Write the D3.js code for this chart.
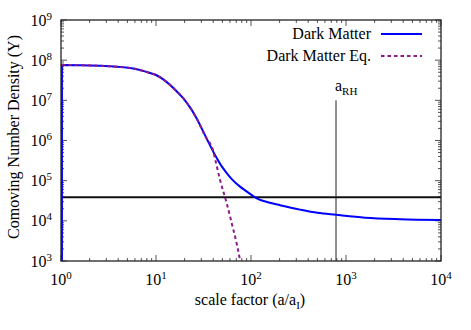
<!DOCTYPE html>
<html>
<head>
<meta charset="utf-8">
<script src="https://cdn.jsdelivr.net/npm/d3@7"></script>
<style>
body { margin: 0; background: #fff; }
</style>
</head>
<body>
<div id="chart"></div>
<script>
// values
var darkA = [1.023, 1.023, 1.58, 2.9, 5.55, 8.65, 10, 12.9, 15.8, 19.4, 22.9, 26.8, 34.1, 41.8, 50.1, 55.5, 63.1, 76.6, 89.1, 115, 158, 202, 328, 501, 785, 1585, 3700, 10000];
var darkY = [300, 7.6e7, 7.5e7, 7.16e7, 6.3e7, 4.8e7, 4.27e7, 2.88e7, 1.86e7, 1.12e7, 6.6e6, 3.55e6, 1.12e6, 4.37e5, 2.14e5, 1.55e5, 1.08e5, 7.1e4, 5.5e4, 3.63e4, 2.82e4, 2.45e4, 1.9e4, 1.58e4, 1.41e4, 1.2e4, 1.1e4, 1.05e4];
var eqA = [1.023, 1.58, 2.9, 5.55, 8.65, 10, 12.9, 15.8, 19.4, 22.9, 26.8, 34.1, 37, 39.8, 41.8, 47.2, 55.5, 62.7, 70.6, 76.6, 79.4];
var eqY = [7.6e7, 7.5e7, 7.16e7, 6.3e7, 4.8e7, 4.27e7, 2.88e7, 1.86e7, 1.12e7, 6.6e6, 3.55e6, 1.12e6, 8.5e5, 5.75e5, 3.55e5, 1.05e5, 2.75e4, 8.7e3, 2.75e3, 1.05e3, 630];
var hLevel = 3.86e4;
var aRH = 785, aRHtop = 1e7;
var xExp = [0, 1, 2, 3, 4];
var yExp = [3, 4, 5, 6, 7, 8, 9];

var W = 471, H = 330;
var m = {left: 61, right: 30, top: 20, bottom: 69};
var serif = "'Liberation Serif', 'Times New Roman', Times, serif";

var svg = d3.select('#chart').append('svg')
	.attr('width', W)
	.attr('height', H)
	.attr('font-family', serif);

var x = d3.scaleLog().domain([1, 1e4]).range([m.left, W - m.right]);
var y = d3.scaleLog().domain([1e3, 1e9]).range([H - m.bottom, m.top]);

svg.append('clipPath').attr('id', 'clip')
	.append('rect')
	.attr('x', m.left).attr('y', m.top)
	.attr('width', x.range()[1] - m.left)
	.attr('height', y.range()[0] - m.top);

// ticks, mirrored on all four sides, pointing in
function minors(lo, hi) {
	var out = [];
	for (var e = lo; e < hi; e++)
		for (var k = 2; k <= 9; k++) out.push(k * Math.pow(10, e));
	return out;
}
var xMaj = xExp.map(function (e) { return Math.pow(10, e); });
var yMaj = yExp.map(function (e) { return Math.pow(10, e); });

var tk = svg.append('g').attr('stroke', '#555').attr('stroke-width', 1);
[[xMaj, 6], [minors(0, 4), 3]].forEach(function (p) {
	tk.selectAll(null).data(p[0]).enter().append('line')
		.attr('x1', function (d) { return x(d); }).attr('x2', function (d) { return x(d); })
		.attr('y1', y.range()[0]).attr('y2', y.range()[0] - p[1]);
	tk.selectAll(null).data(p[0]).enter().append('line')
		.attr('x1', function (d) { return x(d); }).attr('x2', function (d) { return x(d); })
		.attr('y1', m.top).attr('y2', m.top + p[1]);
});
[[yMaj, 6], [minors(3, 9), 3]].forEach(function (p) {
	tk.selectAll(null).data(p[0]).enter().append('line')
		.attr('y1', function (d) { return y(d); }).attr('y2', function (d) { return y(d); })
		.attr('x1', m.left).attr('x2', m.left + p[1]);
	tk.selectAll(null).data(p[0]).enter().append('line')
		.attr('y1', function (d) { return y(d); }).attr('y2', function (d) { return y(d); })
		.attr('x1', x.range()[1]).attr('x2', x.range()[1] - p[1]);
});

// tick labels 10^n
function pow10(g, e) {
	g.append('tspan').text('10');
	g.append('tspan').attr('dy', -6).attr('font-size', 11).text(e);
}
xExp.forEach(function (e) {
	var t = svg.append('text')
		.attr('x', x(Math.pow(10, e))).attr('y', 285)
		.attr('text-anchor', 'middle').attr('font-size', 16);
	pow10(t, e);
});
yExp.forEach(function (e) {
	var t = svg.append('text')
		.attr('x', 52).attr('y', y(Math.pow(10, e)) + 5.5)
		.attr('text-anchor', 'end').attr('font-size', 16);
	pow10(t, e);
});

// axis titles
var xt = svg.append('text').attr('x', 250).attr('y', 305)
	.attr('text-anchor', 'middle').attr('font-size', 16);
xt.append('tspan').text('scale factor (a/a');
xt.append('tspan').attr('dy', 4).attr('font-size', 11).text('I');
xt.append('tspan').attr('dy', -4).text(')');

svg.append('text')
	.attr('transform', 'translate(19,137) rotate(-90)')
	.attr('text-anchor', 'middle').attr('font-size', 16)
	.text('Comoving Number Density (Y)');

// curves
var plot = svg.append('g').attr('clip-path', 'url(#clip)');
var line = d3.line()
	.x(function (d) { return x(d[0]); })
	.y(function (d) { return y(d[1]); })
	.curve(d3.curveMonotoneX);

plot.append('line')
	.attr('x1', m.left).attr('x2', x.range()[1])
	.attr('y1', y(hLevel)).attr('y2', y(hLevel))
	.attr('stroke', '#111').attr('stroke-width', 2);

plot.append('line')
	.attr('x1', x(aRH)).attr('x2', x(aRH))
	.attr('y1', y(1e3)).attr('y2', y(aRHtop))
	.attr('stroke', '#222').attr('stroke-width', 1);

// first segment is the vertical jump at a ~ 1, the rest a smooth curve
var dm = d3.zip(darkA, darkY);
plot.append('path')
	.attr('d', 'M' + x(dm[0][0]) + ',' + y(dm[0][1]) +
		line(dm.slice(1)).replace(/^M/, 'L'))
	.attr('fill', 'none').attr('stroke', '#0000ff').attr('stroke-width', 2);

plot.append('path')
	.datum(d3.zip(eqA, eqY))
	.attr('d', line)
	.attr('fill', 'none').attr('stroke', '#8b1a8b').attr('stroke-width', 2)
	.attr('stroke-dasharray', '3.5,3');

// frame
svg.append('rect')
	.attr('x', m.left).attr('y', m.top)
	.attr('width', x.range()[1] - m.left)
	.attr('height', y.range()[0] - m.top)
	.attr('fill', 'none').attr('stroke', '#222').attr('stroke-width', 1.3);

// a_RH label
var rl = svg.append('text').attr('x', x(aRH) - 1).attr('y', 91)
	.attr('font-size', 16);
rl.append('tspan').text('a');
rl.append('tspan').attr('dy', 4).attr('font-size', 11).text('RH');

// legend
var legend = [
	{name: 'Dark Matter', color: '#0000ff', dash: null},
	{name: 'Dark Matter Eq.', color: '#8b1a8b', dash: '3.5,3'}
];
legend.forEach(function (l, i) {
	var yy = 34 + i * 22;
	svg.append('text').attr('x', 371).attr('y', yy + 5)
		.attr('text-anchor', 'end').attr('font-size', 16).text(l.name);
	svg.append('line')
		.attr('x1', 381).attr('x2', 422).attr('y1', yy).attr('y2', yy)
		.attr('stroke', l.color).attr('stroke-width', 2)
		.attr('stroke-dasharray', l.dash);
});
</script>
</body>
</html>
